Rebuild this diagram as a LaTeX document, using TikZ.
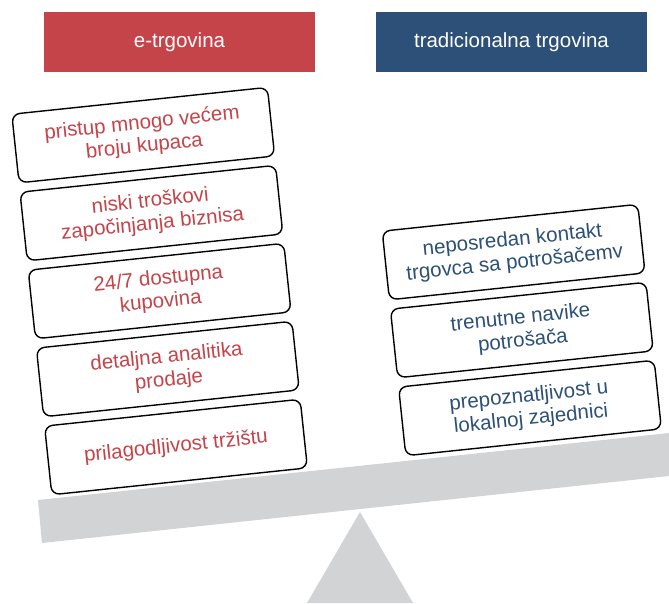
\documentclass[tikz,border=0pt]{standalone}
\usepackage{fontspec}
\setmainfont{Liberation Sans}
\usetikzlibrary{positioning}
\definecolor{ecRed}{HTML}{C5444A}
\definecolor{trBlue}{HTML}{2C5077}
\definecolor{beamGray}{HTML}{D1D3D4}

\begin{document}
\begin{tikzpicture}[x=1pt,y=-1pt,node distance=8pt,
  hd/.style={minimum width=271pt,minimum height=60pt,inner sep=0pt,text=white,font=\fontsize{20.5}{24}\selectfont},
  pt/.style={draw,line width=1.4pt,rounded corners=8pt,fill=white,minimum width=257pt,minimum height=69pt,inner sep=2pt,align=center,font=\fontsize{20.5}{23}\selectfont},
  ep/.style={pt,text=ecRed},
  tp/.style={pt,text=trBlue}]
\useasboundingbox (0,0) rectangle (669,603);
\node[hd,fill=ecRed] (eh) at (179.5,42) {e-trgovina};
\node[hd,fill=trBlue] (th) at (511.5,42) {tradicionalna trgovina};
% vaga
\fill[beamGray] (360,512) -- (413,603) -- (307,603) -- cycle;
\fill[beamGray] (38,500) -- (669,433) -- (669,476) -- (42,543) -- cycle;
% e-trgovina
\begin{scope}[shift={(176,447)},rotate=6,transform shape]
\node[ep] (e5) at (0,0) {prilagodljivost tržištu};
\node[ep,above=of e5] (e4) {detaljna analitika\\prodaje};
\node[ep,above=of e4] (e3) {24/7 dostupna\\kupovina};
\node[ep,above=of e3] (e2) {niski troškovi\\započinjanja biznisa};
\node[ep,above=of e2] (e1) {pristup mnogo većem\\broju kupaca};
\end{scope}
% tradicionalna trgovina
\begin{scope}[shift={(530,408)},rotate=6,transform shape]
\node[tp] (t3) at (0,0) {prepoznatljivost u\\lokalnoj zajednici};
\node[tp,above=of t3] (t2) {trenutne navike\\potrošača};
\node[tp,above=of t2] (t1) {neposredan kontakt\\trgovca sa potrošačemv};
\end{scope}
\end{tikzpicture}
\end{document}
